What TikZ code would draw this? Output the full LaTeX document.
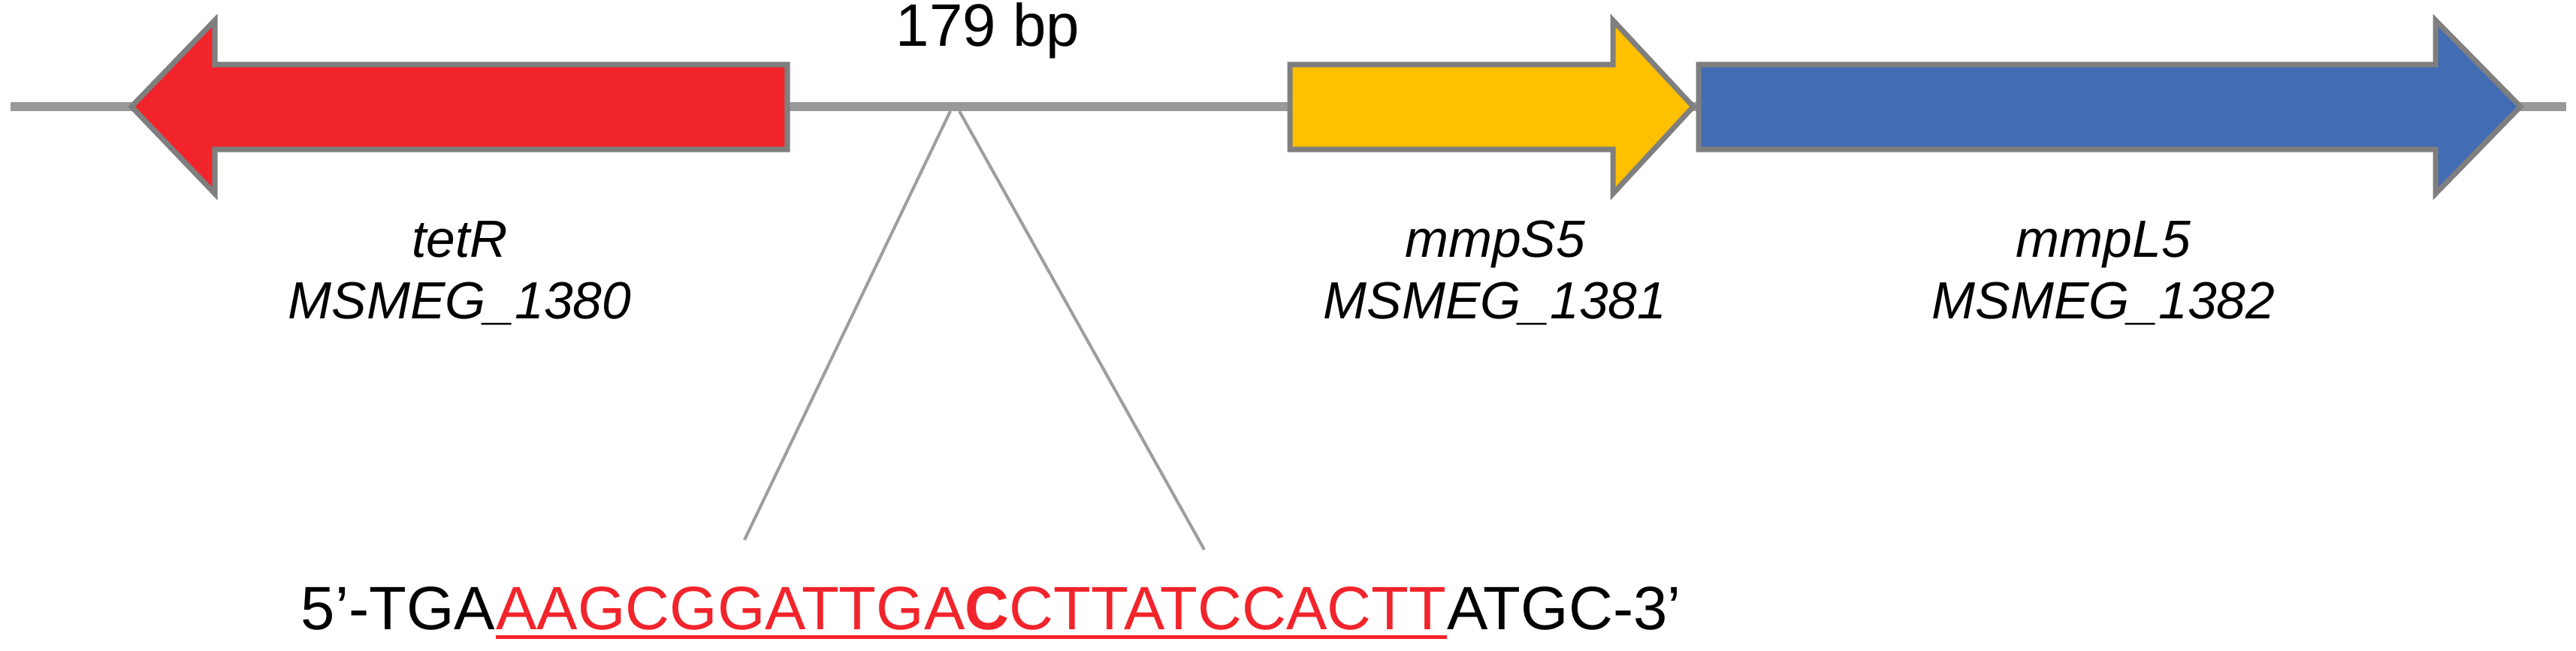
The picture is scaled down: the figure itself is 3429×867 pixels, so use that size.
\documentclass[tikz,border=0pt]{standalone}
\usepackage{fontspec}
\setmainfont{Liberation Sans}
\usetikzlibrary{calc}
\definecolor{genered}{HTML}{F2242B}
\definecolor{geneyellow}{HTML}{FFC000}
\definecolor{geneblue}{HTML}{426CB4}
\definecolor{outl}{HTML}{7F7F7F}
\definecolor{bbgray}{HTML}{999999}
\definecolor{fangray}{HTML}{9E9E9E}
\begin{document}
\begin{tikzpicture}[x=0.01cm,y=-0.01cm,
  genebox/.style={draw=outl, line width=2pt, line join=miter},
  backbone/.style={draw=bbgray, line width=3.4pt},
  fan/.style={draw=fangray, line width=1.15pt},
  lbl/.style={font=\fontsize{19.8}{23.5}\selectfont\itshape, anchor=base, inner sep=0pt},
  seq/.style={font=\fontsize{23.2}{27}\selectfont, anchor=base west, inner sep=0pt}]
\useasboundingbox (0,0) rectangle (3429,867);
% backbone
\coordinate (bbL) at (14,142);
\coordinate (bbR) at (3416,142);
\draw[backbone] (bbL) -- (bbR);
% genes
\filldraw[genebox, fill=genered] (1048,86) -- (286,86) -- (286,27) -- (175,142) -- (286,258) -- (286,199) -- (1048,199) -- cycle;
\filldraw[genebox, fill=geneyellow] (1717,86) -- (2147,86) -- (2147,27) -- (2254,142) -- (2147,258) -- (2147,199) -- (1717,199) -- cycle;
\filldraw[genebox, fill=geneblue] (2261,86) -- (3242,86) -- (3242,27) -- (3355,142) -- (3242,258) -- (3242,199) -- (2261,199) -- cycle;
% labels
\node[seq, font=\fontsize{22.7}{27}\selectfont, anchor=base] (bp) at (1315,62) {179 bp};
\node[lbl] (tetR) at (612,343) {tetR};
\node[lbl] (tetRid) at (612,425) {MSMEG\_1380};
\node[lbl] (mmpS) at (1990,343) {mmpS5};
\node[lbl] (mmpSid) at (1990,425) {MSMEG\_1381};
\node[lbl] (mmpL) at (2800,343) {mmpL5};
\node[lbl] (mmpLid) at (2800,425) {MSMEG\_1382};
% fan lines
\coordinate (fanL) at (1265,148);
\coordinate (fanR) at (1277,148);
\coordinate (fanLb) at (991,719);
\coordinate (fanRb) at (1603,732);
\draw[fan] (fanL) -- (fanLb);
\draw[fan] (fanR) -- (fanRb);
% sequence
\node[seq] (s1) at (400,838) {5’-TGA};
\node[seq, text=genered] (s2) at (s1.base east) {AAGCGGATTGA\textbf{C}CTTATCCACTT};
\node[seq] (s3) at (s2.base east) {ATGC-3’};
\draw[genered, line width=1.4pt] ($(s2.base west)+(0,10.5)$) -- ($(s2.base east)+(0,10.5)$);
\end{tikzpicture}
\end{document}
